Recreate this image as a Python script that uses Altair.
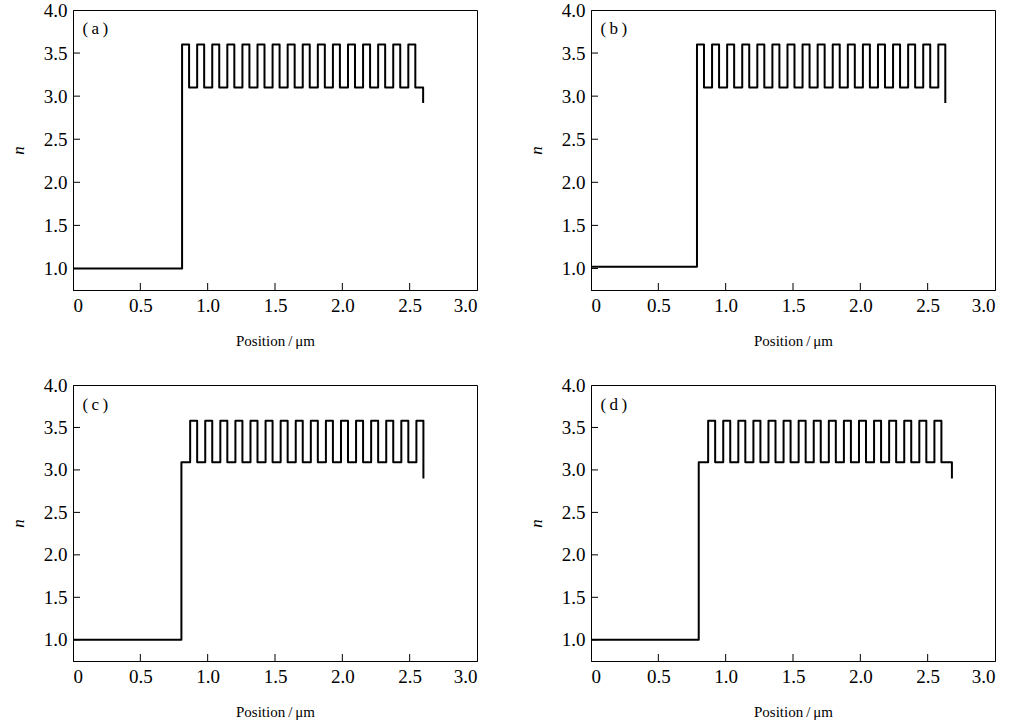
import altair as alt
import pandas as pd

# ---- data (step profile: x breakpoints, refractive index after each breakpoint)
a_x = [0.0, 0.81, 0.862, 0.922, 0.974, 1.034, 1.086, 1.146, 1.198, 1.258, 1.310, 1.370, 1.422,
       1.482, 1.534, 1.594, 1.646, 1.706, 1.758, 1.818, 1.870, 1.930, 1.982, 2.042, 2.094,
       2.154, 2.206, 2.266, 2.318, 2.378, 2.430, 2.490, 2.542, 2.600]
a_n = [1.0, 3.6, 3.1, 3.6, 3.1, 3.6, 3.1, 3.6, 3.1, 3.6, 3.1, 3.6, 3.1,
       3.6, 3.1, 3.6, 3.1, 3.6, 3.1, 3.6, 3.1, 3.6, 3.1, 3.6, 3.1,
       3.6, 3.1, 3.6, 3.1, 3.6, 3.1, 3.6, 3.1, 2.92]

b_x = [0.0, 0.787, 0.839, 0.899, 0.951, 1.011, 1.063, 1.123, 1.175, 1.235, 1.287, 1.347, 1.399,
       1.459, 1.511, 1.571, 1.623, 1.683, 1.735, 1.795, 1.847, 1.907, 1.959, 2.019, 2.071,
       2.131, 2.183, 2.243, 2.295, 2.355, 2.407, 2.467, 2.519, 2.579, 2.631]
b_n = [1.02, 3.6, 3.1, 3.6, 3.1, 3.6, 3.1, 3.6, 3.1, 3.6, 3.1, 3.6, 3.1,
       3.6, 3.1, 3.6, 3.1, 3.6, 3.1, 3.6, 3.1, 3.6, 3.1, 3.6, 3.1,
       3.6, 3.1, 3.6, 3.1, 3.6, 3.1, 3.6, 3.1, 3.6, 2.92]

c_x = [0.0, 0.805, 0.870, 0.922, 0.982, 1.034, 1.094, 1.146, 1.206, 1.258, 1.318, 1.370, 1.430,
       1.482, 1.542, 1.594, 1.654, 1.706, 1.766, 1.818, 1.878, 1.930, 1.990, 2.042, 2.102,
       2.154, 2.214, 2.266, 2.326, 2.378, 2.438, 2.490, 2.550, 2.602]
c_n = [1.0, 3.09, 3.58, 3.09, 3.58, 3.09, 3.58, 3.09, 3.58, 3.09, 3.58, 3.09, 3.58,
       3.09, 3.58, 3.09, 3.58, 3.09, 3.58, 3.09, 3.58, 3.09, 3.58, 3.09, 3.58,
       3.09, 3.58, 3.09, 3.58, 3.09, 3.58, 3.09, 3.58, 2.9]

d_x = [0.0, 0.800, 0.870, 0.922, 0.982, 1.034, 1.094, 1.146, 1.206, 1.258, 1.318, 1.370, 1.430,
       1.482, 1.542, 1.594, 1.654, 1.706, 1.766, 1.818, 1.878, 1.930, 1.990, 2.042, 2.102,
       2.154, 2.214, 2.266, 2.326, 2.378, 2.438, 2.490, 2.550, 2.602, 2.680]
d_n = [1.0, 3.09, 3.58, 3.09, 3.58, 3.09, 3.58, 3.09, 3.58, 3.09, 3.58, 3.09, 3.58,
       3.09, 3.58, 3.09, 3.58, 3.09, 3.58, 3.09, 3.58, 3.09, 3.58, 3.09, 3.58,
       3.09, 3.58, 3.09, 3.58, 3.09, 3.58, 3.09, 3.58, 3.09, 2.9]

panel_labels = ["(\u2009a\u2009)", "(\u2009b\u2009)", "(\u2009c\u2009)", "(\u2009d\u2009)"]
label_x = [0.07, 0.07, 0.07, 0.07]
label_y = [3.78, 3.78, 3.76, 3.76]

x_ticks = [0, 0.5, 1.0, 1.5, 2.0, 2.5, 3.0]
y_ticks = [1.0, 1.5, 2.0, 2.5, 3.0, 3.5, 4.0]
x_inner = [0.5, 1.0, 1.5, 2.0, 2.5]
y_inner = [1.0, 1.5, 2.0, 2.5, 3.0, 3.5]

FONT = "Liberation Serif"
W = 404


def panel(xs, ns, label, lx, ly, h):
    xscale = alt.Scale(domain=[0, 3.0], nice=False, zero=False)
    yscale = alt.Scale(domain=[0.75, 4.0], nice=False, zero=False)
    xaxis = alt.Axis(values=x_ticks, title="Position\u2009/\u2009μm",
                     labelExpr="datum.value == 0 ? '0' : format(datum.value, '.1f')")
    yaxis = alt.Axis(values=y_ticks, title="n", format=".1f")
    df = pd.DataFrame({"x": xs, "n": ns})
    line = alt.Chart(df).mark_line(
        interpolate="step-after", color="black", strokeWidth=2, strokeJoin="round"
    ).encode(
        x=alt.X("x:Q", scale=xscale, axis=xaxis),
        y=alt.Y("n:Q", scale=yscale, axis=yaxis),
    )
    xt = alt.Chart(pd.DataFrame({"x": x_inner})).mark_rule(color="black", strokeWidth=1).encode(
        x=alt.X("x:Q", scale=xscale, axis=xaxis),
        y=alt.value(h), y2=alt.value(h - 7),
    )
    yt = alt.Chart(pd.DataFrame({"n": y_inner})).mark_rule(color="black", strokeWidth=1).encode(
        y=alt.Y("n:Q", scale=yscale, axis=yaxis),
        x=alt.value(0), x2=alt.value(7),
    )
    txt = alt.Chart(pd.DataFrame({"x": [lx], "n": [ly], "s": [label]})).mark_text(
        align="left", baseline="middle", font=FONT, fontSize=17, color="black"
    ).encode(
        x=alt.X("x:Q", scale=xscale, axis=xaxis),
        y=alt.Y("n:Q", scale=yscale, axis=yaxis),
        text="s:N",
    )
    return alt.layer(line, xt, yt, txt).properties(width=W, height=h)


pa = panel(a_x, a_n, panel_labels[0], label_x[0], label_y[0], 280)
pb = panel(b_x, b_n, panel_labels[1], label_x[1], label_y[1], 280)
pc = panel(c_x, c_n, panel_labels[2], label_x[2], label_y[2], 276)
pd_ = panel(d_x, d_n, panel_labels[3], label_x[3], label_y[3], 276)

top = alt.hconcat(pa, pb, spacing=48)
bottom = alt.hconcat(pc, pd_, spacing=48)
chart = alt.vconcat(top, bottom, spacing=26).properties(
    padding={"left": 8, "top": 0, "right": 5, "bottom": 2},
    background="white",
).configure(
    font=FONT,
).configure_view(
    stroke="black", strokeWidth=1
).configure_axis(
    grid=False, ticks=False, domainColor="black", domainWidth=1,
    labelFont=FONT, labelFontSize=19, labelColor="black", labelPadding=6,
    titleFont=FONT, titleFontSize=15, titleColor="black", titleFontWeight="normal",
).configure_axisX(
    titlePadding=18,
).configure_axisY(
    titleFontStyle="italic", titlePadding=16, titleFontSize=17,
)

chart.save("out.html", embed_options={"renderer": "svg", "actions": False})
